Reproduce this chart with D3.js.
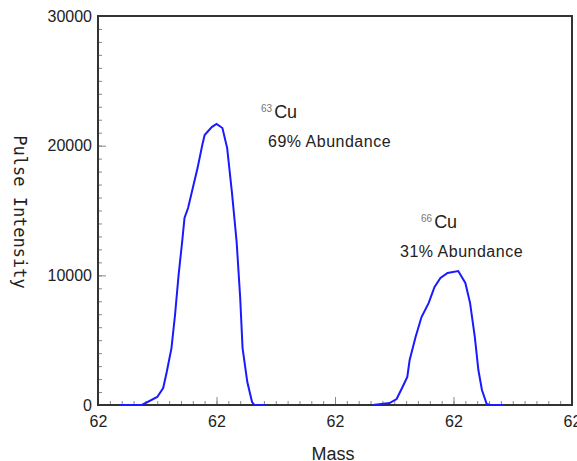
<!DOCTYPE html>
<html>
	<head>
		<script src="https://d3js.org/d3.v7.min.js"></script>
		<style>
			body { margin: 0; background: #fff; }
			text { font-family: "Liberation Sans", Arial, sans-serif; }
		</style>
	</head>
	<body>
		<div id="chart"></div>
	<script>
			// Peak 1 (63Cu)
			var mass1 = [62.18, 62.37, 62.50, 62.55, 62.58, 62.62, 62.65, 62.68, 62.71, 62.73, 62.76, 62.80, 62.84, 62.88, 62.90, 62.96, 63.00, 63.05, 63.09, 63.13, 63.17, 63.20, 63.22, 63.26, 63.30, 63.32, 63.41];
			var pulse1 = [0, 0, 620, 1310, 2540, 4390, 6940, 10020, 12570, 14420, 15190, 16730, 18270, 20050, 20820, 21430, 21670, 21360, 19810, 16420, 12570, 8250, 4390, 1770, 230, 0, 0];

			// Peak 2 (66Cu)
			var mass2 = [64.32, 64.46, 64.52, 64.57, 64.61, 64.63, 64.68, 64.73, 64.79, 64.84, 64.89, 64.95, 65.04, 65.10, 65.14, 65.18, 65.21, 65.24, 65.28, 65.31, 65.42];
			var pulse2 = [0, 150, 460, 1390, 2160, 3470, 5240, 6780, 7860, 9100, 9790, 10180, 10330, 9410, 7860, 5240, 2700, 1160, 80, 0, 0];

			// Axis ticks
			var xTicks = [62, 63, 64, 65, 66];
			var xTickLabels = ["62", "62", "62", "62", "62"];
			var yTicks = [0, 10000, 20000, 30000];
			var yTickLabels = ["0", "10000", "20000", "30000"];

			var width = 577, height = 461;
			// plot box (pTop, not top - that one is window.top)
			var pLeft = 98, pRight = 572, pTop = 16, pBottom = 405;

			var svg = d3.select("#chart").append("svg")
				.attr("width", width)
				.attr("height", height);

			var x = d3.scaleLinear().domain([62, 66]).range([pLeft, pRight]);
			var y = d3.scaleLinear().domain([0, 30000]).range([pBottom, pTop]);

			// minor ticks first so major ones sit on top
			var xMinor = d3.range(62, 66.001, 0.1);
			var yMinor = d3.range(0, 30001, 1000);

			var gxm = svg.append("g")
				.attr("transform", "translate(0," + pBottom + ")")
				.call(d3.axisBottom(x).tickValues(xMinor).tickSize(-4).tickFormat(""));
			var gym = svg.append("g")
				.attr("transform", "translate(" + pLeft + ",0)")
				.call(d3.axisLeft(y).tickValues(yMinor).tickSize(-4).tickFormat(""));
			gxm.select(".domain").remove();
			gym.select(".domain").remove();

			var gx = svg.append("g")
				.attr("transform", "translate(0," + pBottom + ")")
				.call(d3.axisBottom(x).tickValues(xTicks).tickSize(-8).tickPadding(11)
					.tickFormat(function(d, i) { return xTickLabels[i]; }));
			var gy = svg.append("g")
				.attr("transform", "translate(" + pLeft + ",0)")
				.call(d3.axisLeft(y).tickValues(yTicks).tickSize(-8).tickPadding(6)
					.tickFormat(function(d, i) { return yTickLabels[i]; }));
			gx.select(".domain").remove();
			gy.select(".domain").remove();

			svg.selectAll(".tick line").attr("stroke", "#888").attr("stroke-width", 1);
			svg.selectAll(".tick text").attr("fill", "#222").style("font-size", "16px");

			// frame
			svg.append("rect")
				.attr("x", pLeft).attr("y", pTop)
				.attr("width", pRight - pLeft).attr("height", pBottom - pTop)
				.attr("fill", "none")
				.attr("stroke", "#333")
				.attr("stroke-width", 2);

			var line = d3.line()
				.x(function(d) { return x(d[0]); })
				.y(function(d) { return y(d[1]); });

			var peaks = [d3.zip(mass1, pulse1), d3.zip(mass2, pulse2)];
			svg.selectAll(".peak").data(peaks).enter().append("path")
				.attr("class", "peak")
				.attr("d", line)
				.attr("fill", "none")
				.attr("stroke", "#1a1aff")
				.attr("stroke-width", 2);

			// axis titles
			svg.append("text")
				.attr("x", 333).attr("y", 460)
				.attr("text-anchor", "middle")
				.attr("fill", "#222")
				.style("font-size", "18px")
				.text("Mass");

			svg.append("text")
				.attr("transform", "translate(14,212) rotate(90)")
				.attr("text-anchor", "middle")
				.attr("fill", "#222")
				.style("font-family", "'DejaVu Sans Mono', monospace")
				.style("font-size", "17px")
				.text("Pulse Intensity");

			// peak annotations
			function isotope(xp, yp, num) {
				var t = svg.append("text").attr("x", xp).attr("y", yp).attr("fill", "#222");
				t.append("tspan").attr("fill", "#777").style("font-size", "10px").attr("dy", "-6").text(num);
				t.append("tspan").attr("dx", "2").attr("dy", "6").style("font-size", "18px").text("Cu");
			}
			isotope(261, 118, "63");
			isotope(421, 228, "66");

			svg.append("text").attr("x", 268).attr("y", 147)
				.attr("fill", "#222").style("font-size", "16px").style("letter-spacing", "0.5px")
				.text("69% Abundance");
			svg.append("text").attr("x", 400).attr("y", 257)
				.attr("fill", "#222").style("font-size", "16px").style("letter-spacing", "0.5px")
				.text("31% Abundance");
	</script>
	</body>
</html>
